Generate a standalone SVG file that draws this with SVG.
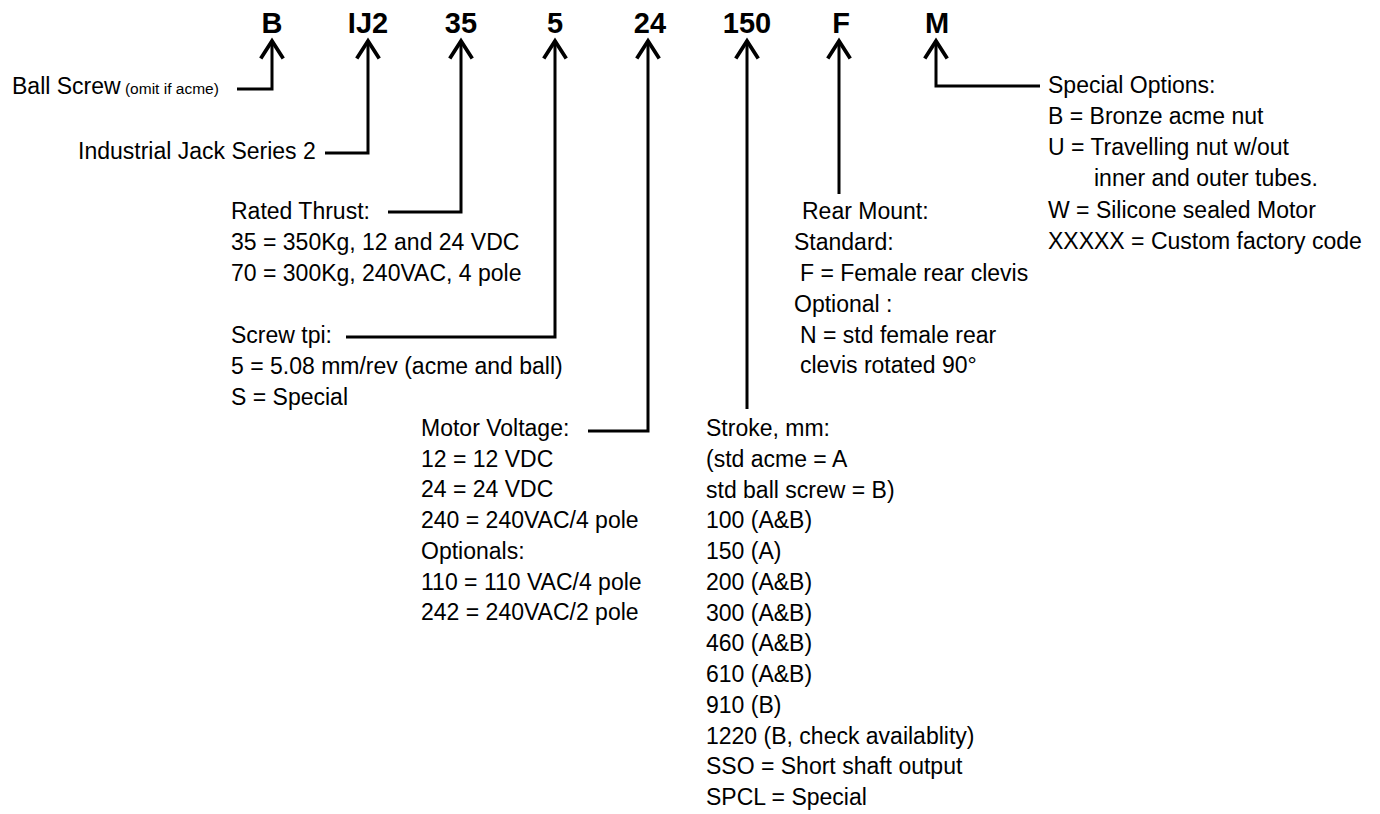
<svg xmlns="http://www.w3.org/2000/svg" width="1380" height="814" viewBox="0 0 1380 814">
<style>
.t{font-family:"Liberation Sans",Arial,sans-serif;font-size:23px;fill:#000}
.s{font-size:15.5px}
.code{font-family:"Liberation Sans",Arial,sans-serif;font-size:29px;font-weight:bold;fill:#000;text-anchor:middle}
.c{fill:none;stroke:#000;stroke-width:3;stroke-linejoin:miter}
</style>
<defs>
<marker id="ah" markerUnits="userSpaceOnUse" markerWidth="30" markerHeight="30" viewBox="-16 -12 20 24" refX="0" refY="0" orient="auto-start-reverse" overflow="visible">
<path d="M-14,-9 L0,0 L-14,9" fill="none" stroke="#000" stroke-width="3" stroke-linejoin="miter"/>
</marker>
</defs>
<rect width="1380" height="814" fill="#fff"/>
<g id="codes">
<text class="code" x="272" y="33">B</text>
<text class="code" x="368" y="33">IJ2</text>
<text class="code" x="461" y="33">35</text>
<text class="code" x="555" y="33">5</text>
<text class="code" x="650" y="33">24</text>
<text class="code" x="747" y="33">150</text>
<text class="code" x="841" y="33">F</text>
<text class="code" x="937" y="33">M</text>
</g>
<g id="connectors">
<path class="c" marker-start="url(#ah)" d="M272,41 V89 H237"/>
<path class="c" marker-start="url(#ah)" d="M368,41 V153 H325"/>
<path class="c" marker-start="url(#ah)" d="M461,41 V212 H388"/>
<path class="c" marker-start="url(#ah)" d="M555,41 V337 H346"/>
<path class="c" marker-start="url(#ah)" d="M648,41 V431 H588"/>
<path class="c" marker-start="url(#ah)" d="M747,41 V409"/>
<path class="c" marker-start="url(#ah)" d="M839,41 V194"/>
<path class="c" marker-start="url(#ah)" d="M936,41 V86 H1040"/>
</g>
<g id="ball-screw">
<text class="t" x="12" y="94">Ball Screw<tspan class="s"> (omit if acme)</tspan></text>
</g>
<g id="series">
<text class="t" x="78" y="159">Industrial Jack Series 2</text>
</g>
<g id="thrust">
<text class="t" x="231" y="219">Rated Thrust:</text>
<text class="t" x="231" y="250">35 = 350Kg, 12 and 24 VDC</text>
<text class="t" x="231" y="280.5">70 = 300Kg, 240VAC, 4 pole</text>
</g>
<g id="tpi">
<text class="t" x="231" y="343">Screw tpi:</text>
<text class="t" x="231" y="374">5 = 5.08 mm/rev (acme and ball)</text>
<text class="t" x="231" y="404.5">S = Special</text>
</g>
<g id="voltage">
<text class="t" x="421" y="436">Motor Voltage:</text>
<text class="t" x="421" y="466.7">12 = 12 VDC</text>
<text class="t" x="421" y="497.4">24 = 24 VDC</text>
<text class="t" x="421" y="528.1">240 = 240VAC/4 pole</text>
<text class="t" x="421" y="558.8">Optionals:</text>
<text class="t" x="421" y="589.5">110 = 110 VAC/4 pole</text>
<text class="t" x="421" y="620.2">242 = 240VAC/2 pole</text>
</g>
<g id="stroke">
<text class="t" x="706" y="436">Stroke, mm:</text>
<text class="t" x="706" y="466.75">(std acme = A</text>
<text class="t" x="706" y="497.5">std ball screw = B)</text>
<text class="t" x="706" y="528.25">100 (A&amp;B)</text>
<text class="t" x="706" y="559">150 (A)</text>
<text class="t" x="706" y="589.75">200 (A&amp;B)</text>
<text class="t" x="706" y="620.5">300 (A&amp;B)</text>
<text class="t" x="706" y="651.25">460 (A&amp;B)</text>
<text class="t" x="706" y="682">610 (A&amp;B)</text>
<text class="t" x="706" y="712.75">910 (B)</text>
<text class="t" x="706" y="743.5">1220 (B, check availablity)</text>
<text class="t" x="706" y="774.25">SSO = Short shaft output</text>
<text class="t" x="706" y="805">SPCL = Special</text>
</g>
<g id="rear-mount">
<text class="t" x="802" y="219">Rear Mount:</text>
<text class="t" x="794" y="250">Standard:</text>
<text class="t" x="800" y="281">F = Female rear clevis</text>
<text class="t" x="794" y="312">Optional :</text>
<text class="t" x="800" y="343">N = std female rear</text>
<text class="t" x="800" y="373">clevis rotated 90°</text>
</g>
<g id="special">
<text class="t" x="1048" y="93">Special Options:</text>
<text class="t" x="1048" y="124">B = Bronze acme nut</text>
<text class="t" x="1048" y="155">U = Travelling nut w/out</text>
<text class="t" x="1094" y="186">inner and outer tubes.</text>
<text class="t" x="1048" y="218">W = Silicone sealed Motor</text>
<text class="t" x="1048" y="249">XXXXX = Custom factory code</text>
</g>
</svg>
